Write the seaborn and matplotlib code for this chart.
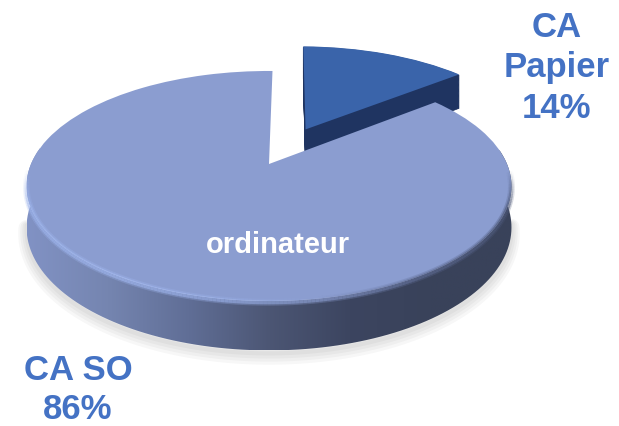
import numpy as np
import matplotlib
matplotlib.use("Agg")
import matplotlib.pyplot as plt
import seaborn as sns
from matplotlib.collections import LineCollection
from matplotlib.patches import PathPatch, Wedge
from matplotlib.path import Path
from matplotlib.transforms import Transform

# data
labels = ["CA SO", "CA\nPapier"]
shares = [86, 14]
explode = [0, 0.37]
percent_labels = ["86%", "14%"]
inner_label = "ordinateur"

# colours
big_top = "#8b9dd0"
small_top = "#3a64aa"
small_side = "#1f3461"
text_blue = "#4472c4"
side_stops = ["#8192c4", "#7585b0", "#606e96", "#4c5674", "#3c4560", "#39425a", "#39425a"]

# projection of the flat pie, in pixels
CX, CY = 269, 165
RX, RY = 238, 110.8
K = 0.191
DEPTH = 40


class Tilt(Transform):
    input_dims = 2
    output_dims = 2

    def __init__(self, z=0):
        super().__init__()
        self.z = z

    def transform_non_affine(self, values):
        values = np.asarray(values)
        s = 1 / (1 + K * values[:, 1])
        return np.column_stack([CX + RX * values[:, 0] * s,
                                CY - RY * values[:, 1] * s + self.z * s])


def rim(wedge, z=0, n=200, front_only=False):
    theta = np.radians(np.linspace(wedge.theta1, wedge.theta2, n))
    if front_only:
        theta = theta[np.sin(theta) < 0.15]
    pts = np.column_stack([wedge.center[0] + wedge.r * np.cos(theta),
                           wedge.center[1] + wedge.r * np.sin(theta)])
    return Tilt(z).transform_non_affine(pts)


sns.set_theme(style="white")
plt.rcParams["font.family"] = ["Liberation Sans", "DejaVu Sans"]

fig = plt.figure(figsize=(6.19, 4.27), dpi=100)
ax = fig.add_axes([0, 0, 1, 1])
wedges, _ = ax.pie(shares, explode=explode, startangle=89, colors=[big_top, small_top])
big, small = wedges
big.set_visible(False)
small.set_visible(False)
ax.set_aspect("auto")
ax.set_xlim(0, 619)
ax.set_ylim(427, 0)
ax.axis("off")

# small slice: thickness then top
for z in np.arange(DEPTH, 0, -1):
    w = Wedge(small.center, small.r, small.theta1, small.theta2, fc=small_side, ec=small_side, lw=0.5)
    w.set_transform(Tilt(z) + ax.transData)
    ax.add_patch(w)
w = Wedge(small.center, small.r, small.theta1, small.theta2, fc=small_top, ec="none")
w.set_transform(Tilt(0) + ax.transData)
ax.add_patch(w)

# soft shadow under the big slice
bottom = rim(big, DEPTH)
keep = bottom[:, 1] > CY + 55
for lw, dy in zip([12, 9, 6, 3], [6, 5, 4, 3]):
    ax.plot(bottom[keep, 0], bottom[keep, 1] + dy, color="black", alpha=0.03, lw=lw,
            solid_capstyle="round", zorder=1.5)

# side of the big slice, horizontal gradient clipped to the band
side = np.vstack([rim(big, 0, front_only=True), rim(big, DEPTH, front_only=True)[::-1]])
side_patch = PathPatch(Path(np.vstack([side, side[0]]), closed=True), fc="none", ec="none", zorder=2)
ax.add_patch(side_patch)
x0, x1 = side[:, 0].min(), side[:, 0].max()
cmap = sns.blend_palette(side_stops, as_cmap=True)
img = ax.imshow(np.linspace(0, 1, 256)[None, :], cmap=cmap, aspect="auto",
                extent=[x0, x1, side[:, 1].max(), side[:, 1].min()], zorder=2)
img.set_clip_path(side_patch)
ax.set_xlim(0, 619)
ax.set_ylim(427, 0)

# top of the big slice
w = Wedge(big.center, big.r, big.theta1, big.theta2, fc=big_top, ec="none", zorder=3)
w.set_transform(Tilt(0) + ax.transData)
ax.add_patch(w)

# bevel round the front edge, bright on the left and dark on the right, fading at both ends
edge = rim(big, 1, 400)
edge = edge[edge[:, 1] > CY + 5]
segs = np.stack([edge[:-1], edge[1:]], axis=1)
bevel = sns.blend_palette(["#9db4ec", "#a0b6ee", "#9ab0e8", "#8b9dd0", "#5f6c94", "#4a5575"], as_cmap=True)
pos = (segs[:, 0, 0] - x0) / (x1 - x0)
fade = np.clip(np.minimum(np.arange(len(segs)), np.arange(len(segs))[::-1]) / 25, 0, 1)
for lw, alpha in [(5, 0.3), (3, 0.6)]:
    seg_colors = bevel(pos)
    seg_colors[:, 3] = alpha * fade
    ax.add_collection(LineCollection(segs, colors=seg_colors, linewidths=lw, zorder=3.5))

# text
ax.text(557, 68, labels[1] + "\n" + percent_labels[1], color=text_blue, fontsize=25, fontweight="bold",
        ha="center", va="center", linespacing=1.27, zorder=5)
ax.text(78, 390, labels[0] + "\n" + percent_labels[0], color=text_blue, fontsize=25, fontweight="bold",
        ha="center", va="center", linespacing=1.2, zorder=5)
ax.text(278, 245, inner_label, color="white", fontsize=21, fontweight="bold",
        ha="center", va="center", zorder=5)

fig.savefig("out.png", dpi=100)
